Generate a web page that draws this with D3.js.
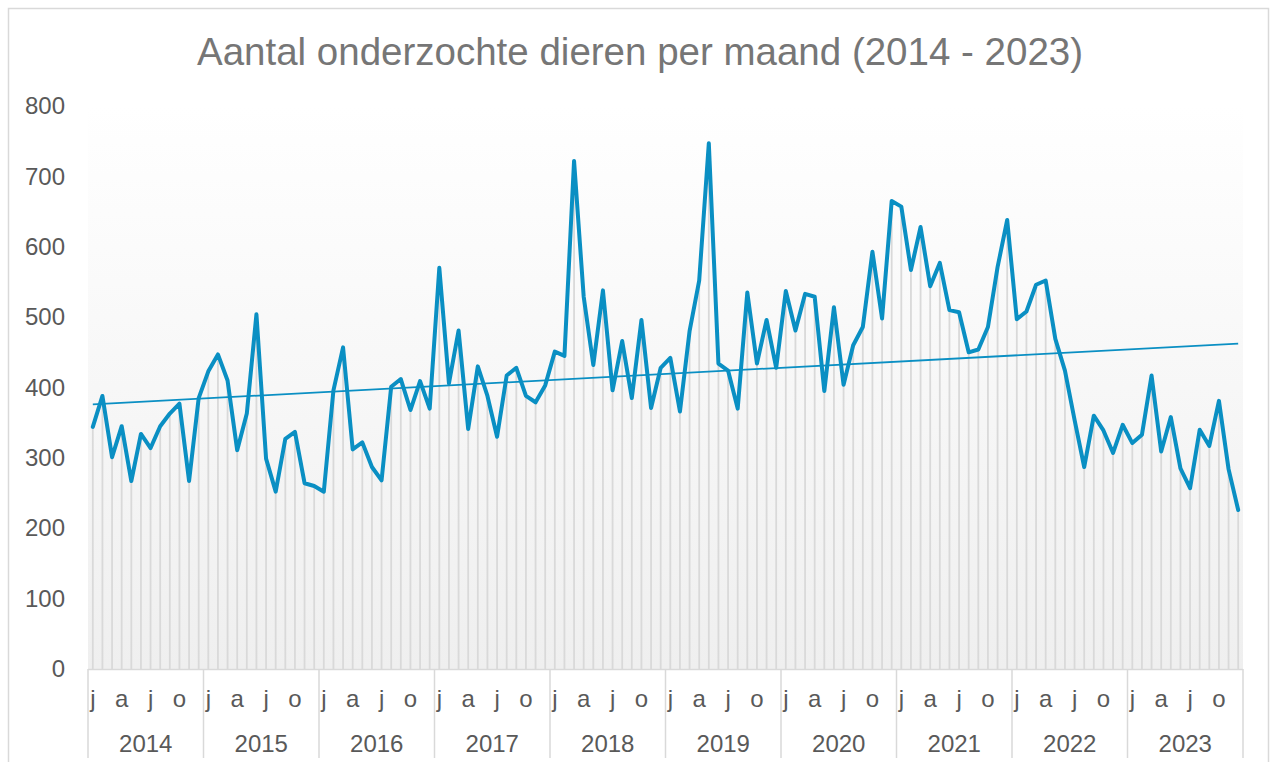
<!DOCTYPE html>
<html>
<head>
<meta charset="utf-8">
<script src="https://cdnjs.cloudflare.com/ajax/libs/d3/7.8.5/d3.min.js"></script>
<style>
  body { margin: 0; background: #ffffff; }
  text { font-family: "Liberation Sans", Arial, sans-serif; }
</style>
</head>
<body>
<div id="my_dataviz"></div>
<script>
// Monthly counts per year
var years = ["2014", "2015", "2016", "2017", "2018", "2019", "2020", "2021", "2022", "2023"];
var monthLetters = ["j", "f", "m", "a", "m", "j", "j", "a", "s", "o", "n", "d"];
var yTicks = [0, 100, 200, 300, 400, 500, 600, 700, 800];

var counts2014 = [344, 388, 301, 345, 267, 334, 314, 345, 363, 377, 267, 385];
var counts2015 = [423, 447, 410, 311, 363, 504, 299, 252, 327, 337, 264, 260];
var counts2016 = [252, 396, 457, 312, 322, 287, 268, 401, 412, 368, 409, 370];
var counts2017 = [570, 406, 481, 341, 430, 388, 330, 417, 428, 388, 379, 403];
var counts2018 = [451, 445, 722, 529, 432, 538, 396, 466, 385, 496, 371, 428];
var counts2019 = [442, 366, 480, 552, 747, 434, 424, 370, 535, 434, 496, 428];
var counts2020 = [537, 481, 533, 529, 395, 514, 404, 460, 486, 593, 498, 665];
var counts2021 = [657, 567, 628, 544, 577, 510, 507, 450, 454, 486, 571, 638];
var counts2022 = [497, 508, 546, 552, 469, 424, 354, 287, 360, 339, 307, 347];
var counts2023 = [321, 333, 417, 309, 358, 285, 257, 340, 317, 381, 284, 226];

var allCounts = [counts2014, counts2015, counts2016, counts2017, counts2018,
                 counts2019, counts2020, counts2021, counts2022, counts2023];

// Flatten into one row per month
var data = [];
allCounts.forEach(function(yearCounts, yi) {
    yearCounts.forEach(function(v, mi) {
        data.push({ key: years[yi] + "-" + mi, year: yi, month: mi, value: v });
    });
});

var width = 1276,
    height = 762;
var plot = { left: 88, right: 1243, top: 106, bottom: 669 };
var lineColor = "#0a8fc3";
var gridColor = "#d9d9d9";

var svg = d3.select("#my_dataviz")
    .append("svg")
    .attr("width", width)
    .attr("height", height);

// Scales
var x = d3.scaleBand()
    .domain(data.map(function(d) { return d.key; }))
    .range([plot.left, plot.right])
    .padding(0);

var y = d3.scaleLinear()
    .domain([0, 800])
    .range([plot.bottom, plot.top]);

function cx(d) { return x(d.key) + x.bandwidth() / 2; }

// Chart border
svg.append("rect")
    .attr("x", 8.5)
    .attr("y", 8.5)
    .attr("width", 1260)
    .attr("height", 780)
    .attr("fill", "none")
    .attr("stroke", gridColor)
    .attr("stroke-width", 1.5);

// Plot area background gradient
var grad = svg.append("defs")
    .append("linearGradient")
    .attr("id", "bg")
    .attr("x1", 0).attr("y1", 0)
    .attr("x2", 0).attr("y2", 1);
grad.append("stop").attr("offset", "0%").attr("stop-color", "#ffffff");
grad.append("stop").attr("offset", "100%").attr("stop-color", "#efefef");

svg.append("rect")
    .attr("x", plot.left)
    .attr("y", plot.top)
    .attr("width", plot.right - plot.left)
    .attr("height", plot.bottom - plot.top)
    .attr("fill", "url(#bg)");

// Title
svg.append("text")
    .attr("x", 640)
    .attr("y", 65)
    .attr("text-anchor", "middle")
    .style("font-size", "38.5px")
    .style("fill", "#767676")
    .text("Aantal onderzochte dieren per maand (2014 - 2023)");

// Y axis labels (no axis line, no gridlines)
var yAxis = svg.append("g")
    .attr("transform", "translate(" + (plot.left - 23) + ",0)")
    .call(d3.axisLeft(y).tickValues(yTicks).tickSize(0).tickPadding(0));
yAxis.select(".domain").remove();
yAxis.selectAll("text")
    .style("font-size", "24px")
    .style("fill", "#595959")
    .style("font-family", "'Liberation Sans', Arial, sans-serif");

// Drop lines
svg.append("g")
    .selectAll("line")
    .data(data)
    .enter()
    .append("line")
    .attr("x1", cx)
    .attr("x2", cx)
    .attr("y1", function(d) { return y(d.value); })
    .attr("y2", y(0))
    .attr("stroke", gridColor)
    .attr("stroke-width", 1.8);

// Category axis: base line and year separators
svg.append("line")
    .attr("x1", plot.left)
    .attr("x2", plot.right)
    .attr("y1", plot.bottom + 0.5)
    .attr("y2", plot.bottom + 0.5)
    .attr("stroke", gridColor)
    .attr("stroke-width", 1.5);

var yearEdges = years.map(function(yr) { return x(yr + "-0"); }).concat([plot.right]);
svg.append("g")
    .selectAll("line")
    .data(yearEdges)
    .enter()
    .append("line")
    .attr("x1", function(d) { return d; })
    .attr("x2", function(d) { return d; })
    .attr("y1", plot.bottom)
    .attr("y2", 758)
    .attr("stroke", gridColor)
    .attr("stroke-width", 1.5);

// Month letters (every third month shown)
svg.append("g")
    .selectAll("text")
    .data(data.filter(function(d) { return d.month % 3 === 0; }))
    .enter()
    .append("text")
    .attr("x", cx)
    .attr("y", 707)
    .attr("text-anchor", "middle")
    .style("font-size", "24px")
    .style("fill", "#595959")
    .text(function(d) { return monthLetters[d.month]; });

// Year labels
svg.append("g")
    .selectAll("text")
    .data(years)
    .enter()
    .append("text")
    .attr("x", function(d, i) { return (yearEdges[i] + yearEdges[i + 1]) / 2; })
    .attr("y", 752)
    .attr("text-anchor", "middle")
    .style("font-size", "24px")
    .style("fill", "#595959")
    .text(function(d) { return d; });

// Linear trend line (least squares over month index)
var n = data.length;
var meanX = d3.mean(data, function(d, i) { return i; });
var meanY = d3.mean(data, function(d) { return d.value; });
var sxy = d3.sum(data, function(d, i) { return (i - meanX) * (d.value - meanY); });
var sxx = d3.sum(data, function(d, i) { return (i - meanX) * (i - meanX); });
var slope = sxy / sxx;
var intercept = meanY - slope * meanX;

svg.append("line")
    .attr("x1", cx(data[0]))
    .attr("x2", cx(data[n - 1]))
    .attr("y1", y(intercept))
    .attr("y2", y(intercept + slope * (n - 1)))
    .attr("stroke", lineColor)
    .attr("stroke-width", 1.8);

// Main line
var line = d3.line()
    .x(cx)
    .y(function(d) { return y(d.value); });

svg.append("path")
    .datum(data)
    .attr("d", line)
    .attr("fill", "none")
    .attr("stroke", lineColor)
    .attr("stroke-width", 4)
    .attr("stroke-linejoin", "round")
    .attr("stroke-linecap", "round");
</script>
</body>
</html>
